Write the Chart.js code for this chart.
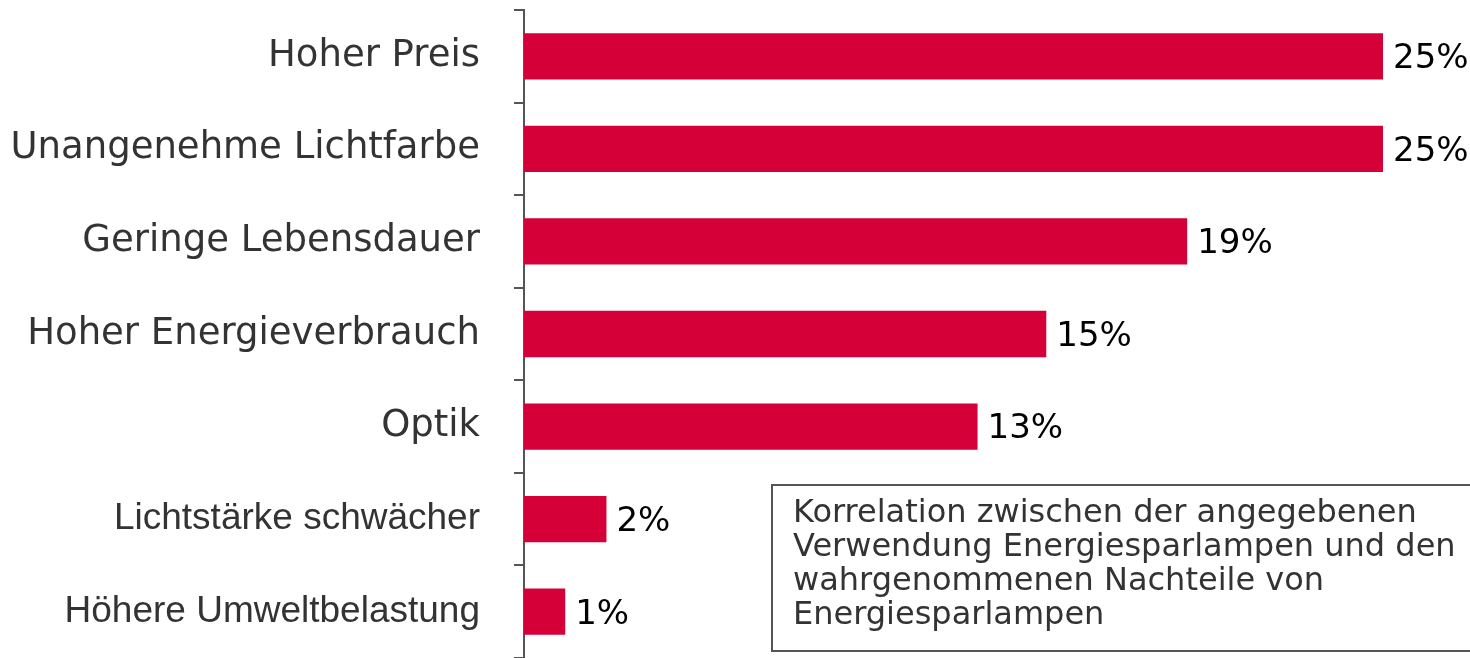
<!DOCTYPE html>
<html>
<head>
<meta charset="utf-8">
<script src="https://cdn.jsdelivr.net/npm/chart.js@4"></script>
<style>
    body { margin: 0; background: #fff; overflow: hidden; }
    #wrap { position: relative; width: 1470px; height: 658px; }
    #note {
        position: absolute; left: 771px; top: 484px; width: 720px; height: 168px;
        border: 2px solid #555; box-sizing: border-box;
        font-family: "DejaVu Sans", sans-serif; font-size: 32px; line-height: 34px;
        color: #333; padding: 8px 0 0 20px; white-space: nowrap;
    }
</style>
</head>
<body>
<div id="wrap">
    <canvas id="chart" width="1470" height="658"></canvas>
    <div id="note">Korrelation zwischen der angegebenen<br>Verwendung Energiesparlampen und den<br>wahrgenommenen Nachteile von<br>Energiesparlampen</div>
</div>
<script>
const categories = ['Hoher Preis', 'Unangenehme Lichtfarbe', 'Geringe Lebensdauer', 'Hoher Energieverbrauch', 'Optik', 'Lichtstärke schwächer', 'Höhere Umweltbelastung'];
const values = [25, 25, 19.3, 15.2, 13.2, 2.4, 1.2];
const valueLabels = ['25%', '25%', '19%', '15%', '13%', '2%', '1%'];

// Werte rechts neben den Balken
const barLabels = {
    id: 'barLabels',
    afterDatasetsDraw(chart) {
        const ctx = chart.ctx;
        const meta = chart.getDatasetMeta(0);
        ctx.save();
        ctx.font = '34px "DejaVu Sans"';
        ctx.fillStyle = '#000';
        ctx.textBaseline = 'middle';
        meta.data.forEach((bar, i) => {
            ctx.fillText(valueLabels[i], bar.x + 10, bar.y + 3);
        });
        ctx.restore();
    }
};

new Chart(document.getElementById('chart'), {
    type: 'bar',
    data: {
        labels: categories,
        datasets: [{
            data: values,
            backgroundColor: '#D50037',
            barPercentage: 0.5,
            categoryPercentage: 1
        }]
    },
    options: {
        indexAxis: 'y',
        responsive: false,
        animation: false,
        layout: { padding: { top: 10, right: 87, bottom: 0, left: 0 } },
        plugins: { legend: { display: false }, tooltip: { enabled: false } },
        scales: {
            x: { display: false, min: 0, max: 25 },
            y: {
                afterFit(scale) {
                    scale.width = 524;
                    scale.paddingTop = 0;
                    scale.paddingBottom = 0;
                },
                border: { color: '#555', width: 2 },
                grid: { drawOnChartArea: false, tickLength: 10, color: '#555', lineWidth: 2, offset: true },
                ticks: {
                    padding: 34,
                    color: '#333',
                    font: (c) => c.index >= 5
                        ? { family: '"Liberation Sans", Arial', size: 37 }
                        : { family: '"DejaVu Sans"', size: 37 }
                }
            }
        }
    },
    plugins: [barLabels]
});
</script>
</body>
</html>
